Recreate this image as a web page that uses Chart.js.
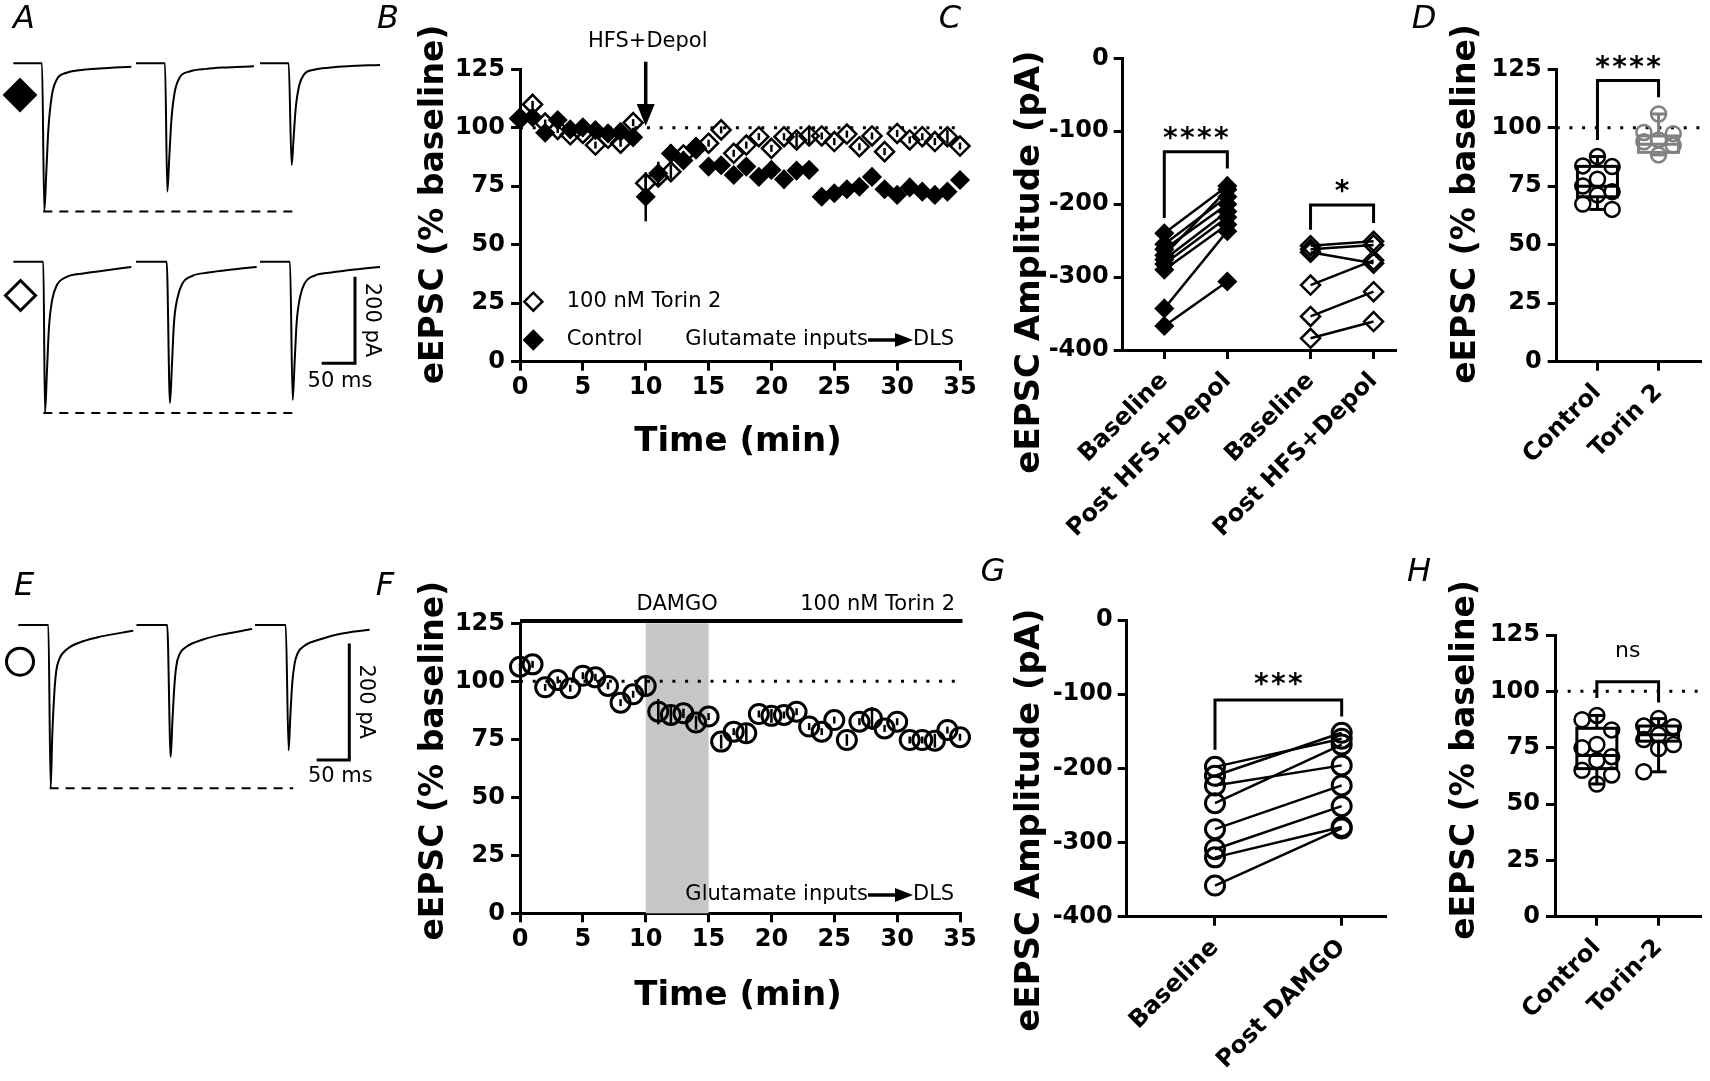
<!DOCTYPE html>
<html>
<head>
<meta charset="utf-8">
<script src="https://cdn.jsdelivr.net/npm/chart.js@4.4.1/dist/chart.umd.min.js"></script>
<style>
  html, body { margin: 0; padding: 0; background: #fff; }
  #wrap { position: relative; width: 1710px; height: 1081px; }
  #wrap canvas { position: absolute; left: 0; top: 0; }
</style>
</head>
<body>
<div id="wrap">
  <canvas id="cA" width="1710" height="1081"></canvas>
  <canvas id="cE" width="1710" height="1081"></canvas>
  <canvas id="cB" width="1710" height="1081"></canvas>
  <canvas id="cF" width="1710" height="1081"></canvas>
  <canvas id="cC" width="1710" height="1081"></canvas>
  <canvas id="cG" width="1710" height="1081"></canvas>
  <canvas id="cD" width="1710" height="1081"></canvas>
  <canvas id="cH" width="1710" height="1081"></canvas>
</div>
<script>
// ---------- data ----------
// A / E example sweeps, [ms, pA] relative to baseline
const traceCtrl = [
  [[0,0],[43,0],[46.5,-342],[49.5,-250],[52.5,-154],[57.5,-77],[65,-38],[80,-22],[105,-15],[130,-12],[177,-8]],
  [[184,0],[227.5,0],[231,-296],[234,-215],[237,-133],[242,-67],[249.5,-33],[264.5,-19],[289.5,-13],[314.5,-10],[361,-7]],
  [[370,0],[413,0],[417.5,-235],[420.5,-170],[423.5,-105],[428.5,-53],[436,-26],[451,-15],[476,-10],[501,-7],[550,-4]]
];
const traceTorin = [
  [[0,0],[45,0],[47.5,-349],[50.5,-250],[53.5,-150],[58,-90],[65,-55],[80,-35],[105,-27],[140,-20],[177,-12]],
  [[184,0],[230,0],[235,-326],[238,-235],[241,-140],[246,-85],[253,-52],[268,-33],[293,-25],[328,-18],[365,-12]],
  [[370,0],[415,0],[419,-319],[422,-230],[425,-140],[430,-82],[437,-50],[452,-32],[477,-25],[512,-18],[550,-12]]
];
const traceDamgo = [
  [[0,0],[46,0],[49.6,-280],[52,-190],[55,-120],[58,-80],[63,-58],[74,-42],[99,-28],[125,-20],[176,-10]],
  [[181,0],[228,0],[233.4,-226],[236,-165],[239,-105],[242,-70],[247,-50],[258,-37],[283,-25],[309,-17],[358,-7]],
  [[362.5,0],[409.5,0],[414,-215],[416.5,-158],[419.5,-100],[423,-67],[428,-48],[439,-35],[464,-24],[490,-16],[538,-8]]
];

// B / F time course (% baseline)
const minutes = [0,1,2,3,4,5,6,7,8,9,10,11,12,13,14,15,16,17,18,19,20,21,22,23,24,25,26,27,28,29,30,31,32,33,34,35];
const ctrlB = [103.6,104.5,97.9,103.3,99.3,100.2,99,97.6,98.3,95.9,70.5,80.5,89,86,92,83.4,84,79.8,83.4,79,82,78,81.7,82,70.5,72,73.7,74.8,79,73.7,71.3,74.5,72.7,71.3,72.7,77.7];
const ctrlBsem = [1.5,1.5,1.5,1.5,1.5,1.5,1.5,1.5,1.5,1.5,10.5,5,4,2,2,1.5,1.5,1.5,1.5,1.5,1.5,4,1.5,1.5,1.5,1.5,1.5,1.5,1.5,1.5,1.5,1.5,1.5,1.5,3,3];
const torinB = [104,110,102,99.3,97,97.6,92.6,95.5,93.4,102.2,76.3,79,81.2,88.4,91.2,93.4,99.1,89.1,92.6,96.2,91.2,96.2,94.8,96.5,96.5,94.1,97.3,91.9,96.5,89.8,97.6,94.8,96.2,94.1,96.2,92.2];
const torinBsem = [1.5,1.5,1.5,1.5,1.5,1.5,1.5,1.5,1.5,1.5,3,1.5,3,1.5,1.5,1.5,1.5,1.5,1.5,1.5,1.5,1.5,3,4,1.5,1.5,1.5,1.5,1.5,1.5,1.5,1.5,1.5,1.5,3,1.5];
const damgoF = [106.3,107.3,97.4,100.6,97,102.4,101.7,98,90.8,94.4,98,86.9,85.5,86.2,82.2,84.8,74,78.3,77.6,85.9,85.1,85.5,86.9,80.5,78.3,83.3,74.7,82.6,84,79.7,82.6,74.7,74.7,74.4,79,75.9];
const damgoFsem = [1.5,1.5,1.5,1.5,1.5,1.5,1.5,1.5,1.5,1.5,4,5.5,4,2,3,1.5,3,1.5,3.5,1.5,3,1.5,1.5,1.5,1.5,1.5,2.5,1.5,5,1.5,1.5,1.5,1.5,3,1.5,1.5];

// C paired amplitudes (pA)
const labelsC = ['Baseline', 'Post HFS+Depol', 'Baseline', 'Post HFS+Depol'];
const ctrlBaseC = [-240, -255, -262, -270, -276, -282, -290, -343, -367];
const ctrlPostC = [-175, -190, -200, -180, -210, -218, -228, -237, -306];
const torinBaseC = [-257, -262, -266, -311, -354, -384];
const torinPostC = [-251, -256, -281, -277, -320, -361];

// G paired amplitudes (pA)
const labelsG = ['Baseline', 'Post DAMGO'];
const damgoBaseG = [-198, -210, -223, -247, -282, -309, -320, -358];
const damgoPostG = [-160, -152, -196, -168, -223, -251, -279, -281];

// D / H summaries (% baseline); box = [min, q1, median, q3, max]
const groupsD = ['Control', 'Torin 2'];
const ctrlD = [87.7, 83.7, 83.4, 78, 75.1, 72.7, 71.3, 67.4, 65.1];
const torinD = [105.9, 98, 97.5, 94.8, 94, 92.5, 88.4];
const boxD = [[65.1, 70.5, 75, 83.5, 87.7], [88.4, 89.5, 93, 96.5, 105.9]];
const groupsH = ['Control', 'Torin-2'];
const ctrlH = [89.3, 87.4, 82.9, 76.4, 75, 71, 69.3, 65, 62.9, 58.9];
const torinH = [87.9, 84.6, 84.3, 80.7, 78.6, 76.4, 74.6, 64.3];
const boxH = [[58.9, 65.7, 71.5, 83.6, 89.3], [64.3, 77.9, 80.7, 84.6, 87.9]];

// ---------- helpers ----------
const W = 1710, H = 1081;
const FONT = 'DejaVu Sans';
const REG = '21px "DejaVu Sans"';
const TITLE = 'bold 33px "DejaVu Sans"';
const GREY = '#808080';
const NONE = 'rgba(0,0,0,0)';
const AXW = 110; // room kept for y tick labels
Chart.defaults.font.family = FONT;
Chart.defaults.color = '#000';

const sx = c => v => c.scales.x.getPixelForValue(v);
const sy = c => v => c.scales.y.getPixelForValue(v);

function seg(ctx, pts, w, color, dash) {
  ctx.save();
  ctx.strokeStyle = color || '#000';
  ctx.lineWidth = w || 3;
  ctx.setLineDash(dash || []);
  ctx.beginPath();
  pts.forEach((p, i) => i ? ctx.lineTo(p[0], p[1]) : ctx.moveTo(p[0], p[1]));
  ctx.stroke();
  ctx.restore();
}
function poly(ctx, pts) {
  ctx.save();
  ctx.fillStyle = '#000';
  ctx.beginPath();
  pts.forEach((p, i) => i ? ctx.lineTo(p[0], p[1]) : ctx.moveTo(p[0], p[1]));
  ctx.closePath();
  ctx.fill();
  ctx.restore();
}
function label(ctx, s, x, y, font, align, rot) {
  ctx.save();
  ctx.font = font;
  ctx.fillStyle = '#000';
  ctx.textAlign = align || 'center';
  ctx.textBaseline = 'middle';
  ctx.translate(x, y);
  if (rot) ctx.rotate(rot);
  ctx.fillText(s, 0, 0);
  ctx.restore();
}
function yTitle(ctx, s, x, y, size) { label(ctx, s, x, y, 'bold ' + (size || 33) + 'px "DejaVu Sans"', 'center', -Math.PI / 2); }
function stars(ctx, n, x, y) {
  for (let k = 0; k < n; k++) label(ctx, '*', x + (k - (n - 1) / 2) * 17, y + 6, 'bold 28px "DejaVu Sans"');
}
function diamond(ctx, x, y, r, filled, w) {
  ctx.save();
  ctx.beginPath();
  ctx.moveTo(x, y - r); ctx.lineTo(x + r, y); ctx.lineTo(x, y + r); ctx.lineTo(x - r, y); ctx.closePath();
  ctx.fillStyle = '#000';
  if (filled) ctx.fill();
  ctx.lineWidth = w || 2.5;
  ctx.stroke();
  ctx.restore();
}
function dotted(ctx, x1, x2, y) { seg(ctx, [[x1, y], [x2, y]], 3, '#000', [3, 9.7]); }
function bracket(c, x1, x2, top, yl, yr) {
  const X = sx(c), Y = sy(c);
  seg(c.ctx, [[X(x1), Y(yl)], [X(x1), Y(top)], [X(x2), Y(top)], [X(x2), Y(yr)]], 3);
}
function errorBars(c) {
  const X = sx(c), Y = sy(c);
  c.data.datasets.forEach(ds => {
    if (!ds.sem) return;
    ds.data.forEach((p, i) => seg(c.ctx, [[X(p.x), Y(p.y - ds.sem[i])], [X(p.x), Y(p.y + ds.sem[i])]], 2.5));
  });
}
function boxes(c, cats, stats, colors) {
  const X = sx(c), Y = sy(c), ctx = c.ctx;
  stats.forEach((s, i) => {
    const x = X(cats[i]), col = colors[i];
    seg(ctx, [[x, Y(s[0])], [x, Y(s[1])]], 3, col);
    seg(ctx, [[x, Y(s[3])], [x, Y(s[4])]], 3, col);
    seg(ctx, [[x - 8, Y(s[0])], [x + 8, Y(s[0])]], 3, col);
    seg(ctx, [[x - 8, Y(s[4])], [x + 8, Y(s[4])]], 3, col);
    seg(ctx, [[x - 20, Y(s[2])], [x + 20, Y(s[2])]], 3, col);
    ctx.save();
    ctx.strokeStyle = col; ctx.lineWidth = 3;
    ctx.strokeRect(x - 20, Y(s[3]), 40, Y(s[1]) - Y(s[3]));
    ctx.restore();
  });
}
function glutamate(ctx, y) {
  label(ctx, 'Glutamate inputs', 868, y, REG, 'right');
  seg(ctx, [[868, y], [898, y]], 3.5);
  poly(ctx, [[895, y - 7], [913, y], [895, y + 7]]);
  label(ctx, 'DLS', 913, y, REG, 'left');
}
function scaleBar(c, cx, cy, tx, ty) {
  const X = sx(c), Y = sy(c), ctx = c.ctx;
  const pa = Y(0) - Y(200), ms = X(50) - X(0);
  seg(ctx, [[cx - ms, cy], [cx, cy], [cx, cy - pa]], 3);
  label(ctx, '200 pA', cx + 16.5, cy - pa / 2, REG, 'center', Math.PI / 2);
  label(ctx, '50 ms', cx + tx, cy + ty, REG);
}

function axisScale(min, max, o) {
  return {
    type: 'linear', min, max,
    border: { color: '#000', width: 3 },
    grid: { drawOnChartArea: false, color: '#000', lineWidth: 3, tickLength: 9 },
    ticks: {
      color: '#000', autoSkip: false, padding: o.padding === undefined ? 5 : o.padding,
      maxRotation: o.rot || 0, minRotation: o.rot || 0,
      font: { family: FONT, weight: 'bold', size: o.size || 24 },
      callback: o.labels ? ((v, i) => o.labels[i]) : (v => v)
    },
    afterBuildTicks: s => { s.ticks = o.values.map(v => ({ value: v })); },
    afterFit: s => { s.width = AXW; }
  };
}
function hidden(min, max) { return { type: 'linear', display: false, min, max }; }

// area = [left, top, right, bottom] of the plot area in page pixels
function make(id, area, scales, datasets, under, over) {
  const axes = scales.x.display !== false;
  const xH = axes ? Math.min(190, H - area[3] - 2) : 0;
  if (axes) scales.x.afterFit = s => { s.height = xH; };
  return new Chart(document.getElementById(id), {
    type: 'line',
    data: { datasets },
    options: {
      responsive: false, animation: false, events: [],
      layout: { padding: {
        left: area[0] - (axes ? AXW : 0), top: area[1],
        right: W - area[2], bottom: H - area[3] - xH } },
      scales,
      plugins: { legend: { display: false }, tooltip: { enabled: false } }
    },
    plugins: [{
      id: 'deco',
      beforeDatasetsDraw(c) { if (under) under(c, c.ctx, sx(c), sy(c)); },
      afterDraw(c) { if (over) over(c, c.ctx, sx(c), sy(c)); }
    }]
  });
}

const FILLED_DIA = { pointStyle: 'rectRot', pointRadius: 9, pointBackgroundColor: '#000', pointBorderColor: '#000', pointBorderWidth: 1.5 };
const OPEN_DIA = { pointStyle: 'rectRot', pointRadius: 9.5, pointBackgroundColor: NONE, pointBorderColor: '#000', pointBorderWidth: 2.5 };
const OPEN_CIRC = { pointStyle: 'circle', pointRadius: 9.5, pointBackgroundColor: NONE, pointBorderColor: '#000', pointBorderWidth: 3 };
const SMALL_CIRC = { pointStyle: 'circle', pointRadius: 7.5, pointBackgroundColor: NONE, pointBorderColor: '#000', pointBorderWidth: 2.5 };
const SMALL_GREY = { pointStyle: 'circle', pointRadius: 7.5, pointBackgroundColor: NONE, pointBorderColor: GREY, pointBorderWidth: 2.5 };

function marks(xs, ys, sem, style) {
  return Object.assign({ data: xs.map((x, i) => ({ x, y: ys[i] })), sem, showLine: false, clip: false }, style);
}
function pairs(xa, xb, base, post, style) {
  return base.map((b, i) => Object.assign({
    data: [{ x: xa, y: b }, { x: xb, y: post[i] }],
    showLine: true, borderColor: '#000', borderWidth: 2.5, clip: false
  }, style));
}
function swarm(cx, vals, style) {
  const off = [0, -0.24, 0.24];
  return Object.assign({ data: vals.map((v, i) => ({ x: cx + off[i % 3], y: v })), showLine: false, clip: false }, style);
}
function sweeps(list, shift) {
  return list.map(sw => ({
    data: sw.map(p => ({ x: p[0], y: p[1] + shift })),
    showLine: true, borderColor: '#000', borderWidth: 2, pointRadius: 0,
    cubicInterpolationMode: 'monotone', clip: false
  }));
}
const peak = sw => Math.min(...sw.map(p => p[1]));

// ---------- A: example traces ----------
const topShift = 458;
make('cA', [0, 30, 400, 430], { x: hidden(-20, 580), y: hidden(-388.4, 534.7) },
  sweeps(traceCtrl, topShift).concat(sweeps(traceTorin, 0)), null,
  (c, ctx, X, Y) => {
    seg(ctx, [[X(45), Y(peak(traceCtrl[0]) + topShift)], [X(420), Y(peak(traceCtrl[0]) + topShift)]], 2, '#000', [9, 7]);
    seg(ctx, [[X(45), Y(peak(traceTorin[0]))], [X(420), Y(peak(traceTorin[0]))]], 2, '#000', [9, 7]);
    diamond(ctx, 20, 95, 16, true, 2);
    diamond(ctx, 20.5, 295.5, 15, false, 3);
    scaleBar(c, 355, 363.3, -15, 18.5);
    const P = 'italic 32px "DejaVu Sans"';
    [['A', 24, 20], ['B', 388, 20], ['C', 950, 20], ['D', 1424, 20],
     ['E', 24, 587], ['F', 385, 587], ['G', 993, 573], ['H', 1419, 573]]
      .forEach(p => label(ctx, p[0], p[1], p[2], P));
  });

// ---------- E: example traces ----------
make('cE', [0, 590, 400, 900], { x: hidden(-28, 584.5), y: hidden(-471.7, 60) },
  sweeps(traceDamgo, 0), null,
  (c, ctx, X, Y) => {
    seg(ctx, [[X(48), Y(peak(traceDamgo[0]))], [X(421), Y(peak(traceDamgo[0]))]], 2, '#000', [9, 7]);
    ctx.save();
    ctx.lineWidth = 3; ctx.strokeStyle = '#000';
    ctx.beginPath(); ctx.arc(20, 661.7, 13.5, 0, Math.PI * 2); ctx.stroke();
    ctx.restore();
    scaleBar(c, 349.3, 760, -9, 17);
  });

// ---------- B: time course ----------
make('cB', [520, 69.3, 960, 361.7],
  { x: axisScale(0, 35, { values: [0, 5, 10, 15, 20, 25, 30, 35], padding: 3 }),
    y: axisScale(0, 125, { values: [0, 25, 50, 75, 100, 125], padding: 6 }) },
  [marks(minutes, ctrlB, ctrlBsem, FILLED_DIA), marks(minutes, torinB, torinBsem, OPEN_DIA)],
  (c, ctx, X, Y) => { dotted(ctx, X(0), X(35), Y(100)); errorBars(c); },
  (c, ctx, X, Y) => {
    const ax = X(10);
    label(ctx, 'HFS+Depol', ax + 2, 41.7, REG);
    seg(ctx, [[ax, 61.7], [ax, 108]], 3.5);
    poly(ctx, [[ax - 9, 104], [ax + 9, 104], [ax, 126]]);
    diamond(ctx, 533.3, 301.7, 9, false);
    label(ctx, '100 nM Torin 2', 566.7, 301.7, REG, 'left');
    diamond(ctx, 533.3, 340, 9, true);
    label(ctx, 'Control', 566.7, 340, REG, 'left');
    glutamate(ctx, 340);
    yTitle(ctx, 'eEPSC (% baseline)', 434, 204.5);
    label(ctx, 'Time (min)', 738, 441.7, 'bold 34px "DejaVu Sans"');
  });

// ---------- F: time course with DAMGO ----------
make('cF', [520, 623.3, 960, 913.3],
  { x: axisScale(0, 35, { values: [0, 5, 10, 15, 20, 25, 30, 35], padding: 3 }),
    y: axisScale(0, 125, { values: [0, 25, 50, 75, 100, 125], padding: 6 }) },
  [marks(minutes, damgoF, damgoFsem, OPEN_CIRC)],
  (c, ctx, X, Y) => {
    ctx.save();
    ctx.fillStyle = '#c6c6c6';
    ctx.fillRect(X(10), Y(125), X(15) - X(10), Y(0) - Y(125));
    ctx.restore();
    dotted(ctx, X(0), X(35), Y(100));
    errorBars(c);
  },
  (c, ctx, X, Y) => {
    seg(ctx, [[X(0), Y(126)], [X(35.2), Y(126)]], 4);
    label(ctx, 'DAMGO', X(12.5), 605, REG);
    label(ctx, '100 nM Torin 2', 955, 605, REG, 'right');
    glutamate(ctx, 895);
    yTitle(ctx, 'eEPSC (% baseline)', 434, 760.7);
    label(ctx, 'Time (min)', 738, 995.7, 'bold 34px "DejaVu Sans"');
  });

// ---------- C: paired amplitudes ----------
const cX = [1, 2, 3.32, 4.32];
make('cC', [1122.7, 58.3, 1395, 350],
  { x: axisScale(0.34, 4.66, { values: cX, labels: labelsC, rot: 45, size: 24, padding: 8 }),
    y: axisScale(-400, 0, { values: [0, -100, -200, -300, -400], padding: 5 }) },
  pairs(cX[0], cX[1], ctrlBaseC, ctrlPostC, FILLED_DIA)
    .concat(pairs(cX[2], cX[3], torinBaseC, torinPostC, OPEN_DIA)),
  null,
  (c, ctx, X, Y) => {
    bracket(c, cX[0], cX[1], -128, -219, -151);
    stars(ctx, 4, (X(cX[0]) + X(cX[1])) / 2, Y(-103));
    bracket(c, cX[2], cX[3], -201, -235, -226);
    stars(ctx, 1, (X(cX[2]) + X(cX[3])) / 2, Y(-176));
    yTitle(ctx, 'eEPSC Amplitude (pA)', 1030, 262, 34);
  });

// ---------- G: paired amplitudes, DAMGO ----------
make('cG', [1126.7, 620, 1385, 916.7],
  { x: axisScale(0.303, 2.342, { values: [1, 2], labels: labelsG, rot: 45, size: 24, padding: 8 }),
    y: axisScale(-400, 0, { values: [0, -100, -200, -300, -400], padding: 5 }) },
  pairs(1, 2, damgoBaseG, damgoPostG, OPEN_CIRC),
  null,
  (c, ctx, X, Y) => {
    bracket(c, 1, 2, -108, -175, -130);
    stars(ctx, 3, (X(1) + X(2)) / 2, Y(-80.7));
    yTitle(ctx, 'eEPSC Amplitude (pA)', 1030, 820, 34);
  });

// ---------- D: summary ----------
make('cD', [1556.7, 69.3, 1703, 361.7],
  { x: axisScale(0.333, 2.678, { values: [1, 2], labels: groupsD, rot: 45, size: 24, padding: 8 }),
    y: axisScale(0, 125, { values: [0, 25, 50, 75, 100, 125], padding: 6 }) },
  [swarm(1, ctrlD, SMALL_CIRC), swarm(2, torinD, SMALL_GREY)],
  (c, ctx, X, Y) => {
    dotted(ctx, X(0.333), X(2.678), Y(100));
    boxes(c, [1, 2], boxD, ['#000', GREY]);
  },
  (c, ctx, X, Y) => {
    bracket(c, 1, 2, 120.2, 94.8, 113);
    stars(ctx, 4, (X(1) + X(2)) / 2, Y(127.6));
    yTitle(ctx, 'eEPSC (% baseline)', 1466, 204);
  });

// ---------- H: summary ----------
make('cH', [1555, 635, 1703, 916.7],
  { x: axisScale(0.322, 2.671, { values: [1, 2], labels: groupsH, rot: 45, size: 24, padding: 8 }),
    y: axisScale(0, 125, { values: [0, 25, 50, 75, 100, 125], padding: 6 }) },
  [swarm(1, ctrlH, SMALL_CIRC), swarm(2, torinH, SMALL_CIRC)],
  (c, ctx, X, Y) => {
    dotted(ctx, X(0.322), X(2.671), Y(100));
    boxes(c, [1, 2], boxH, ['#000', '#000']);
  },
  (c, ctx, X, Y) => {
    bracket(c, 1, 2, 104.3, 97, 95);
    label(ctx, 'ns', (X(1) + X(2)) / 2, Y(117.6), '22px "DejaVu Sans"');
    yTitle(ctx, 'eEPSC (% baseline)', 1465, 760);
  });
</script>
</body>
</html>
